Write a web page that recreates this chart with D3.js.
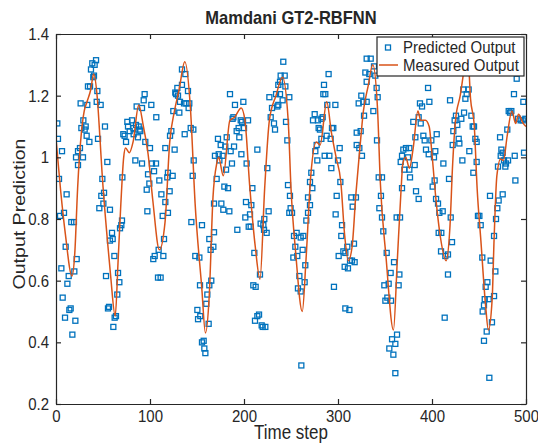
<!DOCTYPE html>
<html>
<head>
<meta charset="utf-8">
<script src="https://cdn.jsdelivr.net/npm/d3@7"></script>
<style>
  body { margin: 0; background: #fff; }
  text { font-family: "Liberation Sans", Arial, sans-serif; fill: #262626; }
</style>
</head>
<body>
<div id="chart"></div>
<script>
// measured output (line)
const measuredStep = [0,5,10,17,20,23,27,30,33,37,40,44,47,49,55,58,63,66,69,72,74,78,82,88,93,98,103,110,116,121,126,131,137,143,148,155,159,163,167,171,173,178,185,190,197,201,206,212,217,222,227,234,241,247,250,255,262,266,271,277,281,288,293,298,303,307,311,315,319,323,327,332,337,342,345,351,359,363,367,369,372,376,380,385,388,393,397,400,404,409,415,419,422,425,430,435,438,441,445,448,452,457,460,464,466,469,473,476,480,485,489,492,497,500];
const measuredValue = [1.06,0.89,0.75,0.615,0.69,0.90,1.08,1.15,1.18,1.22,1.27,1.19,1.05,0.95,0.72,0.62,0.485,0.66,0.85,1.00,1.03,1.015,1.05,1.17,1.10,1.01,0.86,0.70,0.79,1.05,1.15,1.22,1.31,1.16,0.85,0.58,0.43,0.55,0.87,0.98,1.00,0.94,1.12,1.13,1.16,1.12,0.91,0.71,0.605,0.90,1.12,1.20,1.26,1.12,0.90,0.69,0.50,0.67,0.94,1.05,1.04,1.18,1.08,1.00,0.92,0.75,0.665,0.71,0.88,1.02,1.15,1.23,1.30,1.16,0.92,0.68,0.44,0.66,0.89,0.98,1.00,0.965,1.03,1.15,1.12,1.12,1.10,1.01,0.87,0.74,0.665,0.77,0.98,1.12,1.20,1.30,1.34,1.19,1.10,0.90,0.73,0.52,0.44,0.54,0.73,0.94,0.995,0.99,1.07,1.15,1.11,1.14,1.11,1.10];

// predicted output (squares)
const predictedStep = [1.4,2.1,6.4,3.2,11.3,4.3,8.5,16.3,19.1,10.3,5.7,13.5,12.1,7.1,15.6,14.2,9.6,20.6,17.4,19.5,22,21.3,23.4,23.4,25.5,28.7,26.2,27,29.1,31.6,30.5,32.6,33.3,35.5,34,36.2,37.2,38.6,41.1,42.6,39.7,40.4,44,43.3,47.5,52.1,44.7,54.6,49.3,48.2,51.1,50.4,46.1,57.4,59.6,60.3,57.4,62.1,53.2,66,67.4,65.2,56.4,55.3,63.8,62.4,61,68.1,69.5,70.2,70.6,75.9,76.6,71.6,74.5,73,78.4,
  80.9,82.3,82.6,85.1,88,89,89.7,87.2,85.8,91.5,93.3,94.3,101.4,106.7,95,100,84.4,91.5,102.1,106.4,104.3,97.9,99.3,96.5,109.9,97.2,112.1,116.3,119.1,118.4,124.1,120.9,116.3,113.5,119.1,114.9,109.2,105,103.5,114.2,108.5,111.3,121.3,122.7,126.2,124.8,131.2,126.9,127.7,129.8,129.1,131.9,134,136.2,138.7,134,137.6,140.4,141.1,141.8,136.9,143.3,146.1,146.5,145.4,144,155.3,148.2,152.5,163.1,164.5,153.2,165.2,163.1,161,159.9,150.4,153.5,151.1,162.4,157.1,155.3,157.8,158.9,
  167.4,168.1,168.1,170.9,169.1,172.3,173.1,173.8,175.2,177.3,180.1,181.6,180.9,179.1,183,175.9,178,184.4,187.2,185.8,189.4,192.9,185.1,190.4,199.3,187.9,188.7,192.2,194.3,195,196.5,197.9,200,204.3,197.2,202.8,214.2,208.9,202.1,207.8,206.4,201.4,205,207.1,211,217,209.9,212.4,216,214.2,211.7,218.8,219.9,222.7,217.7,220.6,221.6,224.1,221.3,226.2,224.8,228.4,229.8,231.9,233,227,234.1,235.5,236.5,238.3,241.1,236.5,239,238.3,243.3,244,241.8,248.2,244.7,246.1,246.8,248.9,248.2,
  249.6,251.1,253.2,256,254.6,252.5,256.7,260.3,263.1,262.4,265.2,258.9,257.4,260.3,264.5,261,266.3,268.1,270.2,268.1,270.2,272.7,271.6,275.9,278,277.3,273.4,275.2,278.7,279.4,280.8,282.3,283.7,282.3,285.8,287.9,292.2,290.8,284.4,286.5,285.1,290,288.6,292.9,293.6,295,297.2,300,301.8,302.5,298.6,297.5,304.3,303.5,300.7,305.7,307.8,309.9,307.1,310.6,312.8,314.9,317.7,317,295.7,307.8,312.1,314.2,315.6,319.1,325.5,322.7,319.9,319.9,324.1,322,324.8,327.7,326.9,330.5,330.5,329.1,330.5,
  333.3,334.8,337.6,339.7,338.3,341.1,342.2,341.5,343.3,346.8,345.7,344,346.8,348.2,351.8,359.6,356,353.9,349.3,352.5,350.4,356.4,365.3,364.5,362.8,357.5,361,354.6,358.9,361,362.4,366,368.1,366.7,368.1,369.5,372.3,375.9,370.6,374.5,375.9,376.6,381.6,383,385.8,382.3,380.1,385.8,387.2,389.4,388,390.8,392.2,393.6,397.2,395.8,396.5,399.3,402.1,403.5,405,400.7,402.8,404.3,406.4,407.8,409.9,407.1,409.6,412.1,411.4,413.5,414.2,
  417,417,418.1,419.9,421.3,419.2,422,422.7,424.1,425.5,426.9,428.4,429.1,431.2,434.1,432.3,433.3,435.5,436.9,439,439.7,441.9,443.3,444.7,446.1,447.5,444,447.5,448.9,450.4,451.8,453.5,461.7,462.4,467.4,458.9,457.1,456.1,455.3,453.9,458.2,460.3,466,463.8,455.3,461,466,468.1,469.5,470.9,475.2,470.2,472.4,473.1,473.8,475.2,476.6,478,478.7,480.9,480.1,481.6,483,484.4,487.2,488,488.7,490.1,491.5,494.3,496.5,497.9,497.2,499.3];
const predictedValue = [1.11,1.06,1.02,0.93,0.88,0.81,0.82,0.79,0.79,0.71,0.64,0.615,0.59,0.545,0.51,0.505,0.48,0.47,0.425,0.63,0.67,1.00,0.975,1.02,1.03,1.00,1.175,1.095,1.12,1.10,1.09,1.07,1.17,1.05,1.23,1.23,1.285,1.305,1.30,1.315,1.26,1.265,1.215,1.18,1.17,1.10,1.06,0.985,0.93,0.875,0.885,0.85,0.835,0.83,0.755,0.735,0.73,0.68,0.615,0.625,0.595,0.555,0.515,0.51,0.485,0.48,0.45,0.77,0.78,0.795,0.935,1.115,1.10,1.075,1.05,1.07,1.085,
  1.12,1.095,1.075,1.105,1.10,1.09,1.085,1.065,1.165,1.16,1.185,1.205,1.17,1.13,1.05,1.03,0.99,0.98,0.98,0.98,0.955,0.945,0.915,0.895,0.925,0.825,0.88,1.03,0.95,0.935,0.94,0.89,0.855,0.81,0.82,0.735,0.70,0.68,0.67,0.68,0.61,0.61,1.07,1.085,1.025,1.15,1.145,1.21,1.205,1.20,1.225,1.18,1.235,1.175,1.175,1.285,1.27,1.215,1.16,1.175,1.075,1.095,1.09,0.99,0.94,0.79,0.78,0.68,0.675,0.735,0.70,0.585,0.60,0.585,0.555,0.525,0.505,0.485,0.475,0.46,0.405,0.40,0.38,0.365,
  0.71,0.757,0.85,0.93,1.005,1.06,1.01,0.99,1.04,1.005,1.035,1.065,0.96,0.905,0.90,0.85,0.83,0.825,0.98,1.02,1.035,0.765,1.205,1.17,1.18,1.125,1.13,1.085,1.095,1.065,1.12,1.115,1.095,1.12,1.01,0.98,1.025,0.90,0.855,0.845,0.815,0.805,0.775,0.775,0.69,0.62,0.585,0.58,0.49,0.485,0.47,0.455,0.45,0.45,0.785,0.78,0.80,0.755,0.765,0.825,0.965,1.13,1.16,1.11,1.09,1.195,1.205,1.165,1.17,1.205,1.185,1.235,1.265,1.245,1.265,1.23,1.31,1.195,1.115,1.055,0.91,0.875,0.82,
  0.835,0.82,0.745,0.755,0.71,0.675,0.68,0.74,0.745,0.70,0.65,0.615,0.575,0.565,0.595,0.325,0.795,0.82,0.845,0.87,0.92,0.90,0.95,1.02,0.99,1.04,1.12,1.14,1.12,1.095,1.09,1.125,1.13,1.06,1.005,1.07,1.06,1.005,1.205,1.205,1.235,1.27,1.17,0.965,1.095,1.095,1.17,0.99,1.03,0.92,0.875,0.815,0.78,0.745,0.68,0.695,0.69,0.71,0.645,0.64,0.665,0.665,0.66,0.72,0.58,0.51,0.505,0.87,0.84,0.87,1.005,1.03,1.04,1.08,1.085,1.175,1.20,1.135,1.18,1.18,1.245,1.275,1.32,
  1.27,1.32,1.15,1.265,1.295,1.225,1.195,1.055,0.935,0.935,0.875,0.835,0.805,0.76,0.69,0.66,0.625,0.59,0.585,0.545,0.535,0.535,0.62,0.585,0.425,0.41,0.395,0.38,0.36,0.30,0.805,0.805,0.90,0.985,1.005,1.025,1.03,1.03,0.96,1.00,0.96,0.935,0.975,0.89,0.865,1.065,1.115,1.13,1.175,1.165,1.11,1.07,1.055,1.025,1.18,1.225,1.01,1.055,1.00,1.02,1.075,0.905,0.925,0.865,0.85,0.82,0.755,0.755,0.695,0.98,0.825,0.48,0.68,
  0.685,0.62,0.93,0.805,0.725,1.185,1.04,1.085,1.12,1.135,1.105,1.06,1.045,1.125,1.145,0.99,1.22,1.19,1.205,1.22,1.02,1.135,1.10,1.10,1.06,1.05,0.95,0.985,0.81,0.81,0.78,0.675,0.875,0.665,0.63,0.595,0.58,0.54,0.52,0.50,0.435,0.54,0.55,0.465,0.405,0.285,0.745,0.80,0.835,0.86,0.88,0.97,1.065,1.005,1.025,1.015,0.99,0.97,0.98,0.99,1.09,1.15,1.145,1.15,1.205,1.005,0.925,1.255,1.125,1.12,1.12,1.015,1.18,1.125];

const xTicks = [0,100,200,300,400,500];
const yTicks = [0.2,0.4,0.6,0.8,1,1.2,1.4];

const width = 538, height = 443;
const mLeft = 56, mRight = 526, mTop = 34, mBottom = 404;
const blue = "#0072BD", orange = "#D95319", axisColor = "#262626";
const stretch = 1.15; // text in the picture looks a bit tall and narrow

const svg = d3.select("#chart").append("svg")
  .attr("width", width)
  .attr("height", height);

svg.append("rect").attr("width", width).attr("height", height).attr("fill", "#fff");

const x = d3.scaleLinear().domain([0, 500]).range([mLeft, mRight]);
const y = d3.scaleLinear().domain([0.2, 1.4]).range([mBottom, mTop]);

// clip the marks to the plot box
svg.append("clipPath").attr("id", "plotclip")
  .append("rect").attr("x", mLeft).attr("y", mTop)
  .attr("width", mRight - mLeft).attr("height", mBottom - mTop);

const plot = svg.append("g").attr("clip-path", "url(#plotclip)");

const predicted = predictedStep.map((t, i) => ({ t: t, v: predictedValue[i] }));
const measured = measuredStep.map((t, i) => ({ t: t, v: measuredValue[i] }));

plot.selectAll("rect.pred")
  .data(predicted)
  .enter()
  .append("rect")
  .attr("class", "pred")
  .attr("x", d => x(d.t) - 2.5)
  .attr("y", d => y(d.v) - 2.5)
  .attr("width", 5)
  .attr("height", 5)
  .attr("fill", "none")
  .attr("stroke", blue)
  .attr("stroke-width", 1.3);

const line = d3.line()
  .x(d => x(d.t))
  .y(d => y(d.v))
  .curve(d3.curveMonotoneX);

plot.append("path")
  .datum(measured)
  .attr("d", line)
  .attr("fill", "none")
  .attr("stroke", orange)
  .attr("stroke-width", 1.5);

// axes: ticks inside, on all four sides
const tickLen = 5;
const fmtY = d => String(d);

function tallText(g) {
  g.selectAll("text")
    .attr("font-size", 15)
    .attr("fill", axisColor)
    .attr("transform", function() {
      const yy = +this.getAttribute("y") || 0;
      return `translate(0,${yy}) scale(1,${stretch})`;
    })
    .attr("y", 0);
}

svg.append("g")
  .attr("transform", `translate(0,${mBottom})`)
  .call(d3.axisBottom(x).tickValues(xTicks).tickSizeInner(-tickLen).tickSizeOuter(0).tickPadding(6))
  .call(tallText);

svg.append("g")
  .attr("transform", `translate(${mLeft},0)`)
  .call(d3.axisLeft(y).tickValues(yTicks).tickFormat(fmtY).tickSizeInner(-tickLen).tickSizeOuter(0).tickPadding(7))
  .call(tallText);

svg.append("g")
  .attr("transform", `translate(0,${mTop})`)
  .call(d3.axisTop(x).tickValues(xTicks).tickSizeInner(-tickLen).tickSizeOuter(0).tickFormat(""));

svg.append("g")
  .attr("transform", `translate(${mRight},0)`)
  .call(d3.axisRight(y).tickValues(yTicks).tickSizeInner(-tickLen).tickSizeOuter(0).tickFormat(""));

svg.selectAll(".domain").attr("stroke", axisColor).attr("stroke-width", 1.2);
svg.selectAll(".tick line").attr("stroke", axisColor).attr("stroke-width", 1.2);

// title and labels
svg.append("text")
  .attr("transform", `translate(${(mLeft + mRight) / 2},24) scale(1,${stretch})`)
  .attr("text-anchor", "middle")
  .attr("font-size", 16.5)
  .attr("font-weight", "bold")
  .attr("fill", "#000")
  .text("Mamdani GT2-RBFNN");

svg.append("text")
  .attr("transform", `translate(${(mLeft + mRight) / 2},439) scale(1,${stretch})`)
  .attr("text-anchor", "middle")
  .attr("font-size", 17)
  .text("Time step");

svg.append("text")
  .attr("transform", `translate(25,214) rotate(-90) scale(${stretch},1)`)
  .attr("text-anchor", "middle")
  .attr("font-size", 17)
  .text("Output Prediction");

// legend
const lg = svg.append("g").attr("transform", "translate(377,37)");
lg.append("rect")
  .attr("width", 147).attr("height", 39)
  .attr("fill", "#fff").attr("stroke", axisColor).attr("stroke-width", 1.2);
lg.append("rect")
  .attr("x", 8.5).attr("y", 8).attr("width", 5).attr("height", 5)
  .attr("fill", "none").attr("stroke", blue).attr("stroke-width", 1.3);
lg.append("line")
  .attr("x1", 2).attr("x2", 21).attr("y1", 28).attr("y2", 28)
  .attr("stroke", orange).attr("stroke-width", 1.5);
lg.append("text").attr("transform", `translate(26,16) scale(1,${stretch})`)
  .attr("font-size", 15).text("Predicted Output");
lg.append("text").attr("transform", `translate(26,33.5) scale(1,${stretch})`)
  .attr("font-size", 15).text("Measured Output");
</script>
</body>
</html>
